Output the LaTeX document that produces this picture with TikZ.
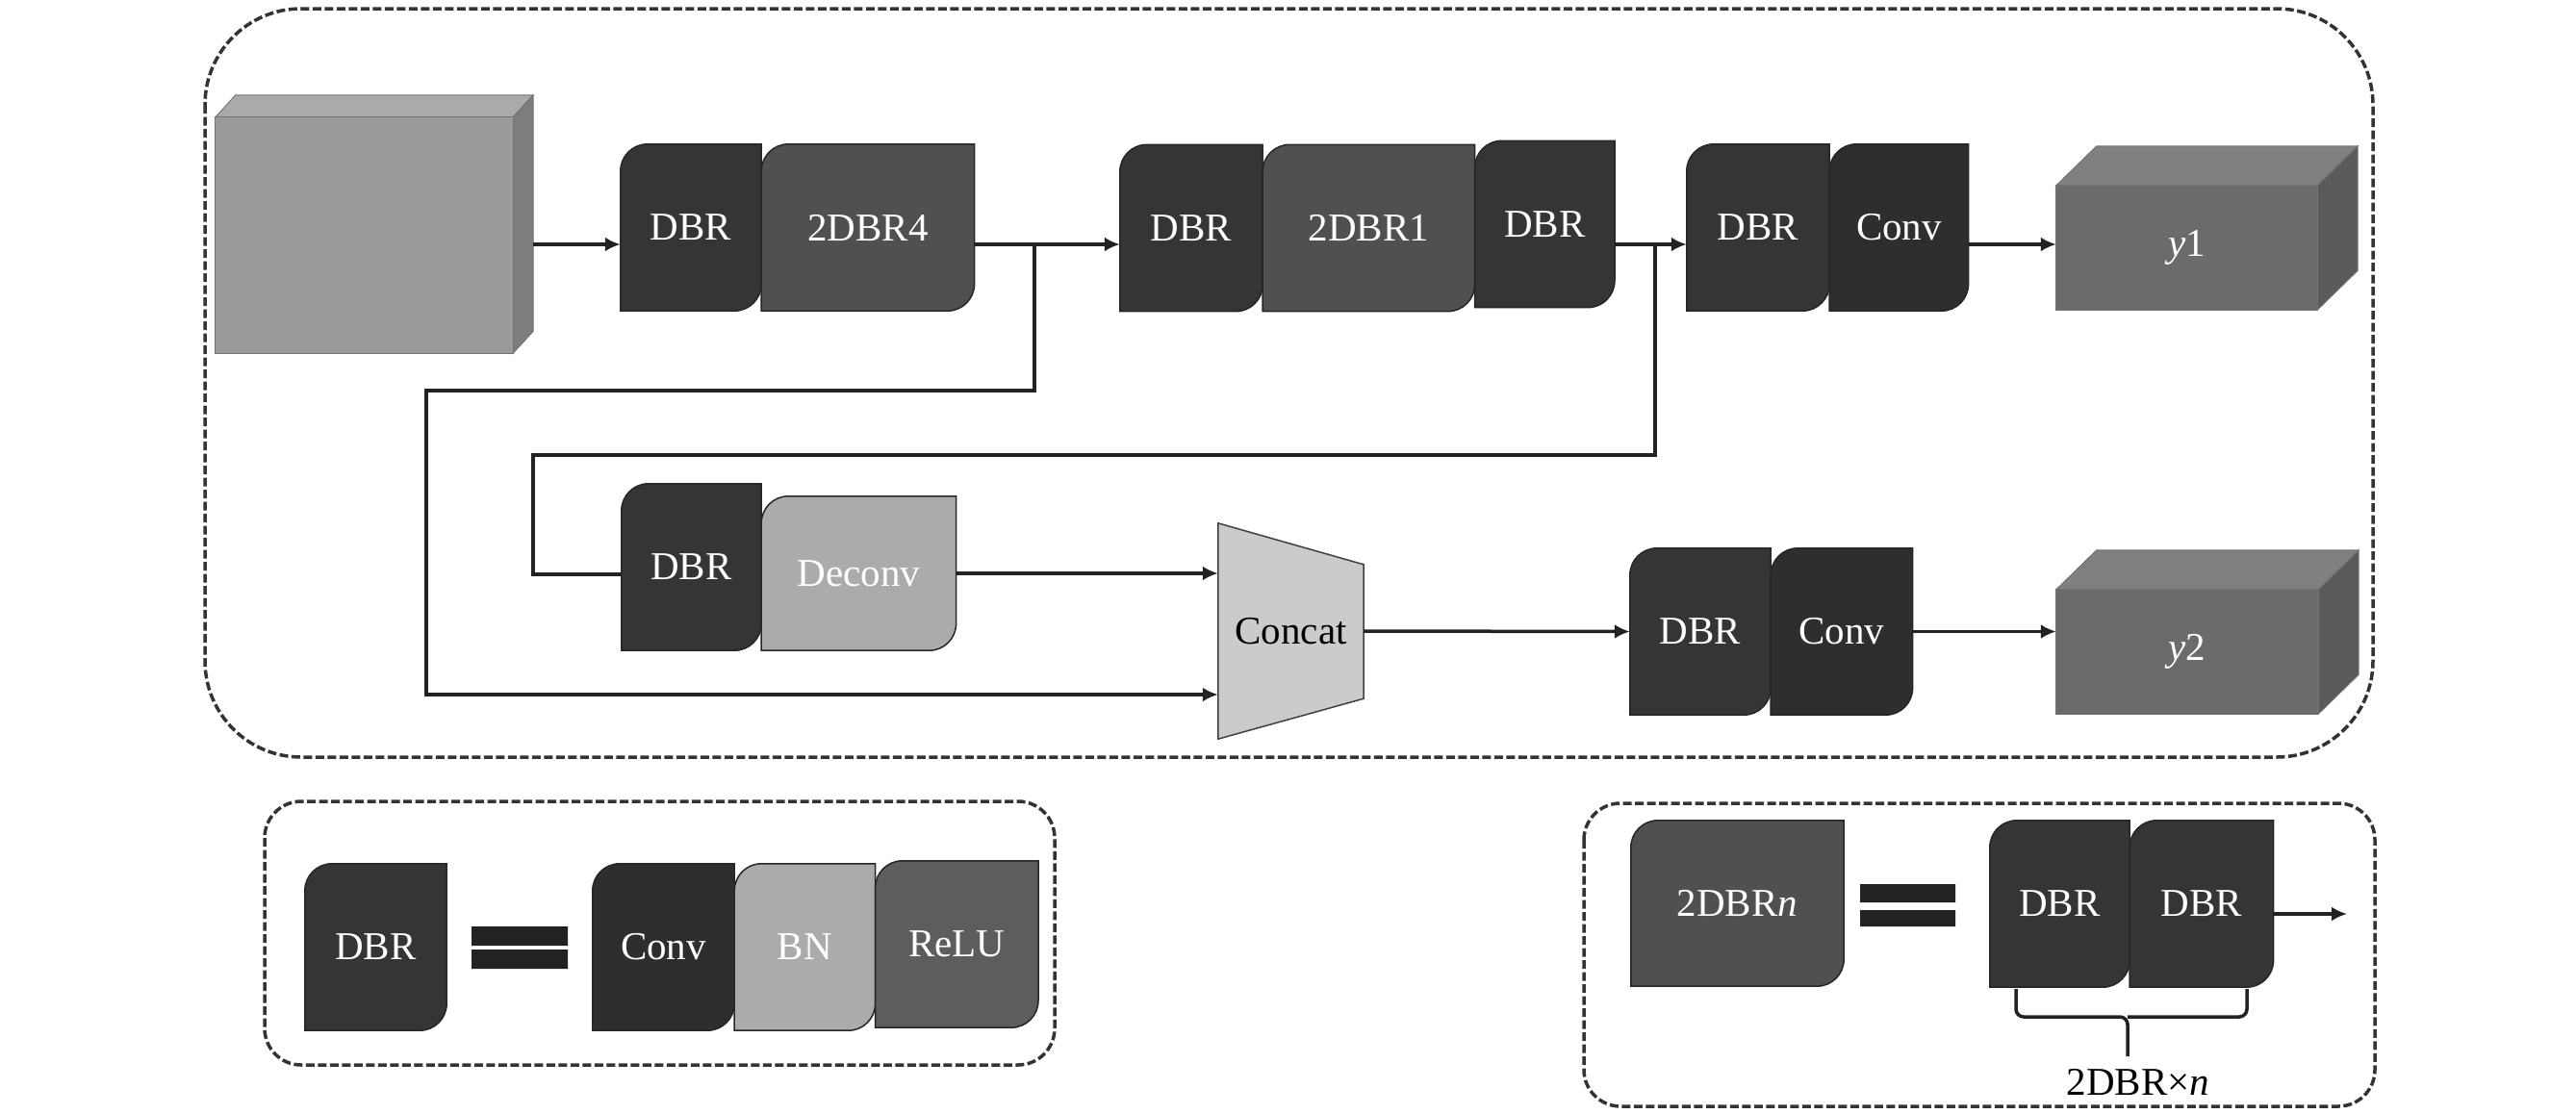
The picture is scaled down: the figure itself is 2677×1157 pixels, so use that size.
\documentclass[tikz,border=0pt]{standalone}
\usepackage{fontspec}
\setmainfont{Liberation Serif}
\usetikzlibrary{positioning, arrows.meta, calc, backgrounds}

\definecolor{dbrgray}{HTML}{353536}
\definecolor{convgray}{HTML}{2E2E30}
\definecolor{twogray}{HTML}{505052}
\definecolor{palegray}{HTML}{ABABAD}
\definecolor{relugray}{HTML}{5D5D5F}
\definecolor{catgray}{HTML}{CBCBCD}
\definecolor{linegray}{HTML}{222222}
\definecolor{inpfront}{HTML}{9A9A9D}
\definecolor{inptop}{HTML}{AAAAAD}
\definecolor{inpside}{HTML}{7D7D80}
\definecolor{outfront}{HTML}{6B6B6D}
\definecolor{outtop}{HTML}{808083}
\definecolor{outside}{HTML}{5A5A5C}

\newcommand{\blkfont}{\fontsize{41}{48}\selectfont}

% block: rounded top-left and bottom-right corners
\newcommand{\blkfill}[2]{%
  \filldraw[fill=#2, draw=black!85, line width=1.5pt]
    (#1.south west) -- ([yshift=-28pt]#1.north west)
    arc[start angle=180, end angle=90, radius=28pt] -- (#1.north east)
    -- ([yshift=28pt]#1.south east)
    arc[start angle=0, end angle=-90, radius=28pt] -- cycle;}

% box with top and side face
\newcommand{\cubefill}[6]{%
  \filldraw[fill=#5, draw=black!55, line width=1pt] (#1.north west) -- ([shift={(#2,#3)}]#1.north west)
    -- ([shift={(#2,#3)}]#1.north east) -- (#1.north east) -- cycle;
  \filldraw[fill=#6, draw=black!55, line width=1pt] (#1.north east) -- ([shift={(#2,#3)}]#1.north east)
    -- ([shift={(#2,#3)}]#1.south east) -- (#1.south east) -- cycle;
  \filldraw[fill=#4, draw=black!55, line width=1pt] (#1.south west) rectangle (#1.north east);}

\begin{document}
\begin{tikzpicture}[
        x=1pt, y=-1pt,
        blk/.style={rectangle, inner sep=0pt, minimum height=173pt, text=white, font=\blkfont},
        cubebox/.style={rectangle, inner sep=0pt, minimum width=271pt, minimum height=129pt, text=white, font=\blkfont},
        arr/.style={-{Latex[length=16pt, width=15pt]}, line width=3.5pt, linegray},
        line/.style={line width=3.5pt, linegray},
        dashbox/.style={draw=black!80, line width=3.5pt, dash pattern=on 9pt off 3.5pt},
    ]
        \useasboundingbox (0,0) rectangle (2677,1157);

        % Outer frames
        \draw[dashbox, rounded corners=100pt] (213,9) rectangle (2466,787);
        \draw[dashbox, rounded corners=38pt] (275,833) rectangle (1096,1107);
        \draw[dashbox, rounded corners=38pt] (1646,835) rectangle (2468,1150);

        % Backbone row
        \coordinate (rowA) at (0,254);
        \node[minimum width=309pt, minimum height=245pt, inner sep=0pt] (inp) at (378.5,244.5) {};
        \node[blk, minimum width=146pt] (dbrA) at (718,236.5) {DBR};
        \node[blk, minimum width=221pt, right=0pt of dbrA] (twoA) {2DBR4};
        \node[blk, minimum width=148pt] (dbrB) at (1238,237) {DBR};
        \node[blk, minimum width=220pt, right=0pt of dbrB] (twoB) {2DBR1};
        \node[blk, minimum width=145pt, right=0pt of twoB, yshift=4pt] (dbrC) {DBR};
        \node[blk, minimum width=148pt] (dbrD) at (1827,236.5) {DBR};
        \node[blk, minimum width=144pt, right=0pt of dbrD] (convA) {Conv};
        \node[cubebox] (outA) at (2272.5,257.5) {\textit{y}1};

        % Second head
        \node[blk, minimum width=145pt] (dbrE) at (718.5,589.5) {DBR};
        \node[blk, minimum width=202pt, minimum height=160pt, anchor=south west] (deconv) at (dbrE.south east) {Deconv};
        \node[minimum width=151pt, minimum height=224pt, inner sep=0pt, font=\blkfont] (concat) at (1341.5,656) {Concat};
        \node[blk, minimum width=146pt] (dbrF) at (1767,656.5) {DBR};
        \node[blk, minimum width=147pt, right=0pt of dbrF] (convB) {Conv};
        \node[cubebox, minimum width=272pt] (outB) at (2273,677.5) {\textit{y}2};

        % Legend: DBR
        \node[blk, minimum width=147pt] (dbrL) at (390.5,984.5) {DBR};
        \fill[linegray] (490,963) rectangle (590,983) (490,987) rectangle (590,1007);
        \node[blk, minimum width=147pt] (convL) at (689.5,984.5) {Conv};
        \node[blk, minimum width=146pt, right=0pt of convL] (bnL) {BN};
        \node[blk, minimum width=169pt, right=0pt of bnL, yshift=3pt] (reluL) {ReLU};

        % Legend: 2DBRn
        \node[blk, minimum width=221pt, minimum height=172pt] (twoL) at (1805.5,939) {2DBR\textit{n}};
        \fill[linegray] (1933,919) rectangle (2032,938) (1933,946) rectangle (2032,963);
        \node[blk, minimum width=145pt] (dbrLa) at (2140.5,939.5) {DBR};
        \node[blk, minimum width=149pt, right=0pt of dbrLa] (dbrLb) {DBR};
        \coordinate (outL) at (2439,950);
        \draw[line, rounded corners=8pt] (2095,1028) |- (2211,1057) -- (2211,1098) (2335,1028) |- (2211,1057);
        \node[font=\blkfont] (repL) at (2222,1125) {2DBR×\textit{n}};

        % Shapes behind the labels
        \begin{pgfonlayer}{background}
            \cubefill{inp}{21}{-23}{inpfront}{inptop}{inpside}
            \cubefill{outA}{42}{-41}{outfront}{outtop}{outside}
            \cubefill{outB}{42}{-41}{outfront}{outtop}{outside}
            \foreach \n/\c in {dbrA/dbrgray, twoA/twogray, dbrB/dbrgray, twoB/twogray, dbrC/dbrgray,
                dbrD/dbrgray, convA/convgray, dbrE/dbrgray, deconv/palegray, dbrF/dbrgray, convB/convgray,
                dbrL/dbrgray, convL/convgray, bnL/palegray, reluL/relugray, twoL/twogray, dbrLa/dbrgray, dbrLb/dbrgray}
                \blkfill{\n}{\c};
            \filldraw[fill=catgray, draw=black!75, line width=1.5pt] (concat.north west) -- ([yshift=-43pt]concat.north east)
                -- ([yshift=42pt]concat.south east) -- (concat.south west) -- cycle;
        \end{pgfonlayer}

        % Arrows
        \draw[arr] ($(inp.east |- rowA)+(21,0)$) -- (dbrA.west |- rowA);
        \draw[arr] (twoA.east |- rowA) -- (dbrB.west |- rowA);
        \draw[arr] (dbrC.east |- rowA) -- (dbrD.west |- rowA);
        \draw[arr] (convA.east |- rowA) -- (outA.west |- rowA);
        \draw[arr] (deconv.east) -- (deconv.east -| concat.west);
        \draw[arr] (concat.east) -- (dbrF.west);
        \draw[arr] (convB.east) -- (convB.east -| outB.west);
        \draw[arr] ([yshift=-10.5pt]dbrLb.east) -- (outL);

        % Skip connections
        \coordinate (brA) at (1075,254);
        \coordinate (skipA) at (443,406);
        \draw[arr] (brA) |- (skipA) |- ([yshift=-66pt]concat.west);
        \coordinate (brB) at (1720,254);
        \coordinate (skipB) at (554,473);
        \draw[line] (brB) |- (skipB) |- ([yshift=-7.5pt]dbrE.west);
    \end{tikzpicture}
\end{document}
